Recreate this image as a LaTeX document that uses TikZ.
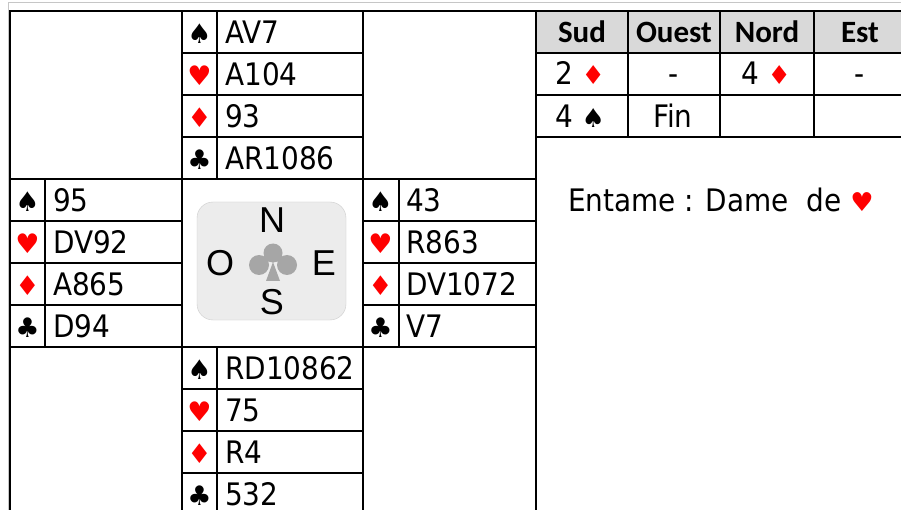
\documentclass[tikz,border=0pt]{standalone}
\usepackage{fontspec}
\setmainfont{DejaVu Sans Condensed}
\newfontfamily\bidfont{Carlito}
\newfontfamily\symfont{DejaVu Sans}
\newfontfamily\logofont{Liberation Sans}
\definecolor{suitred}{RGB}{255,0,0}
\definecolor{hdrgray}{RGB}{217,217,217}
\newcommand\suitsym[2]{{\symfont\fontsize{26}{26}\selectfont\textcolor{#1}{#2}}}
% one hand: name, left x, top y, then spades, hearts, diamonds, clubs
\newcommand\hand[7]{%
  \foreach \k/\sym/\col/\hold in {0/♠/black/#4,1/♥/suitred/#5,2/♦/suitred/#6,3/♣/black/#7}{%
    \node[suit,text=\col] (#1s\k) at (#2+17.5,#3+42*\k+32.5) {\sym};
    \node[holding] (#1h\k) at (#2+43,#3+42*\k+32.5) {\hold};
  }}
\begin{document}
\begin{tikzpicture}
  [x=1pt,y=-1pt,
   grid/.style={line width=2pt,line cap=rect},
   suit/.style={anchor=base,inner sep=0pt,font=\symfont\fontsize{27}{27}\selectfont},
   holding/.style={anchor=base west,inner sep=0pt,font=\fontsize{31}{31}\selectfont},
   bidhead/.style={anchor=base,inner sep=0pt,font=\bidfont\bfseries\fontsize{31}{31}\selectfont},
   bidcell/.style={anchor=base,inner sep=0pt,font=\fontsize{31}{31}\selectfont},
   compass/.style={inner sep=0pt,text=black,font=\logofont\fontsize{36}{36}\selectfont}]
  \clip (0,0) rectangle (901,510);
  \fill[white] (0,0) rectangle (901,510);
  % sheet gridlines
  \draw[gray!45,line width=1pt] (8,520) -- (8,3) -- (910,3);
  % deal table
  \draw[grid] (10,11) rectangle (536,520);
  \draw[grid] (10,179) -- (536,179) (10,347) -- (536,347);
  \draw[grid] (182,11) -- (182,520) (363,11) -- (363,520);
  \draw[grid] (217,11) -- (217,179) (217,347) -- (217,520);
  \draw[grid] (45,179) -- (45,347) (399,179) -- (399,347);
  \foreach \y in {53,95,137} \draw[grid] (182,\y) -- (363,\y);
  \foreach \y in {221,263,305} \draw[grid] (10,\y) -- (182,\y) (363,\y) -- (536,\y);
  \foreach \y in {389,431,473} \draw[grid] (182,\y) -- (363,\y);
  \hand{n}{182}{11}{AV7}{A104}{93}{AR1086}
  \hand{w}{10}{179}{95}{DV92}{A865}{D94}
  \hand{e}{363}{179}{43}{R863}{DV1072}{V7}
  \hand{s}{182}{347}{RD10862}{75}{R4}{532}
  % compass card
  \draw[gray!40,fill=gray!15,rounded corners=16pt] (197,202) rectangle (346,320);
  \fill[gray!70] (273,253) circle (9.5) (259,265) circle (10) (287,265) circle (10)
    (273,262) -- (266,281) -- (280,281) -- cycle;
  \node[compass] (cn) at (272,220) {N};
  \node[compass] (co) at (220,263) {O};
  \node[compass] (ce) at (324,263) {E};
  \node[compass] (cs) at (272,302) {S};
  % bidding
  \fill[hdrgray] (536,11) rectangle (910,53);
  \draw[grid] (536,11) rectangle (910,137);
  \draw[grid] (536,53) -- (910,53) (536,95) -- (910,95);
  \foreach \x in {628,720,814} \draw[grid] (\x,11) -- (\x,137);
  \node[bidhead] (sud) at (582,43) {Sud};
  \node[bidhead] (ouest) at (674,43) {Ouest};
  \node[bidhead] (nord) at (767,43) {Nord};
  \node[bidhead] (est) at (860,43) {Est};
  \node[bidcell] (b1) at (580,85) {2 \suitsym{suitred}{♦}};
  \node[bidcell] (b2) at (674,85) {-};
  \node[bidcell] (b3) at (766,85) {4 \suitsym{suitred}{♦}};
  \node[bidcell] (b4) at (860,85) {-};
  \node[bidcell] (b5) at (580,128) {4 \suitsym{black}{♠}};
  \node[bidcell] (b6) at (673,128) {Fin};
  \node[holding] (lead) at (568,212) {Entame : Dame~~de \suitsym{suitred}{♥}};
\end{tikzpicture}
\end{document}
